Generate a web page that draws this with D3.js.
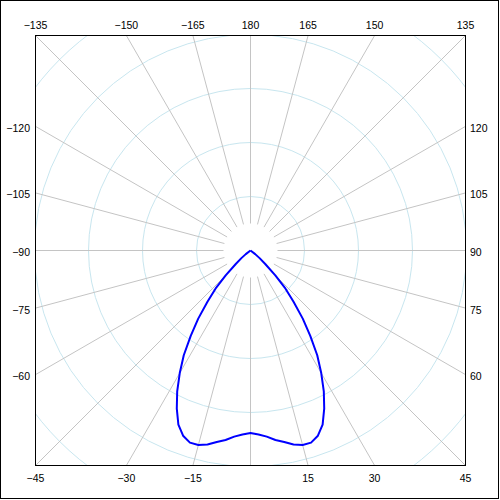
<!DOCTYPE html>
<html>
<head>
<meta charset="utf-8">
<script src="https://cdn.jsdelivr.net/npm/d3@7"></script>
<style>
  html, body { margin: 0; padding: 0; background: #fff; }
  svg { display: block; }
  text { font-family: "Liberation Sans", Arial, sans-serif; font-size: 10.5px; fill: #000; }
</style>
</head>
<body>
<svg id="chart" width="500" height="500"></svg>
<script>
// Angles in degrees (0 = down, positive to the right); intensity values
const angles = [0, 2.5, 5, 7.5, 10, 12.5, 15, 17.5, 20, 22.5, 25, 27.5, 30, 32.5, 35, 37.5, 40, 42.5, 45, 47.5, 50, 52.5, 55, 60, 90, 120, 150, 180];
const intensityRight = [338, 341, 346, 354, 360, 368, 373, 373, 365, 349, 323, 294, 262, 230, 193, 159, 124, 96, 65, 37, 22, 11, 0, 0, 0, 0, 0, 0];
const intensityLeft  = [338, 341, 346, 354, 360, 368, 373, 373, 365, 349, 323, 294, 262, 230, 193, 159, 124, 96, 65, 37, 22, 11, 0, 0, 0, 0, 0, 0];
const gridValues = [100, 200, 300, 400, 500];
const spokeAngles = d3.range(-165, 181, 15);
const topLabels = [-135, -150, -165, 180, 165, 150, 135];
const leftLabels = [-120, -105, -90, -75, -60];
const rightLabels = [120, 105, 90, 75, 60];
const bottomLabels = [-45, -30, -15, 15, 30, 45];

const svg = d3.select("#chart");
const cx = 250.5, cy = 250.5;
const fx0 = 35.5, fy0 = 35.5, fw = 430, fh = 430;
const r = d3.scaleLinear().domain([0, 100]).range([0, 54]);
const rad = d => d * Math.PI / 180;
const pt = (a, v) => [cx + r(v) * Math.sin(rad(a)), cy + r(v) * Math.cos(rad(a))];

// outer border
svg.append("rect").attr("x", 0.5).attr("y", 0.5).attr("width", 498).attr("height", 498)
  .attr("fill", "#fff").attr("stroke", "#000").attr("stroke-width", 1);

svg.append("clipPath").attr("id", "clip").append("rect")
  .attr("x", fx0).attr("y", fy0).attr("width", fw).attr("height", fh);

const g = svg.append("g").attr("clip-path", "url(#clip)");

// circles
g.selectAll("circle.grid").data(gridValues).enter().append("circle")
  .attr("cx", cx).attr("cy", cy).attr("r", d => r(d))
  .attr("fill", "none").attr("stroke", "#c8e6ef").attr("stroke-width", 1);

// spokes
g.selectAll("line.spoke").data(spokeAngles).enter().append("line")
  .attr("x1", d => pt(d, 50)[0]).attr("y1", d => pt(d, 50)[1])
  .attr("x2", d => pt(d, 800)[0]).attr("y2", d => pt(d, 800)[1])
  .attr("stroke", "#c4c4c4").attr("stroke-width", 1);

// curve
const curvePts = [];
for (let i = angles.length - 1; i >= 0; i--) curvePts.push(pt(-angles[i], intensityLeft[i]));
for (let i = 1; i < angles.length; i++) curvePts.push(pt(angles[i], intensityRight[i]));
g.append("path").attr("d", d3.line()(curvePts))
  .attr("fill", "none").attr("stroke", "#0000ff").attr("stroke-width", 2).attr("stroke-linejoin", "round");

// frame
svg.append("rect").attr("x", fx0).attr("y", fy0).attr("width", fw).attr("height", fh)
  .attr("fill", "none").attr("stroke", "#000").attr("stroke-width", 1);

const fmt = d => (d < 0 ? "\u2212" + Math.abs(d) : String(d));
const half = fw / 2;

// top labels
svg.selectAll("text.top").data(topLabels).enter().append("text")
  .attr("x", d => cx + half * Math.sin(rad(d)) / -Math.cos(rad(d)))
  .attr("y", 29).attr("text-anchor", "middle").text(fmt);
// bottom labels
svg.selectAll("text.bottom").data(bottomLabels).enter().append("text")
  .attr("x", d => cx + half * Math.tan(rad(d)))
  .attr("y", 482).attr("text-anchor", "middle").text(fmt);
// left labels
svg.selectAll("text.left").data(leftLabels).enter().append("text")
  .attr("x", 30).attr("y", d => cy + half * Math.cos(rad(d)) / -Math.sin(rad(d)) + 5.5)
  .attr("text-anchor", "end").text(fmt);
// right labels
svg.selectAll("text.right").data(rightLabels).enter().append("text")
  .attr("x", 470).attr("y", d => cy + half * Math.cos(rad(d)) / Math.sin(rad(d)) + 5.5)
  .attr("text-anchor", "start").text(fmt);
</script>
</body>
</html>
